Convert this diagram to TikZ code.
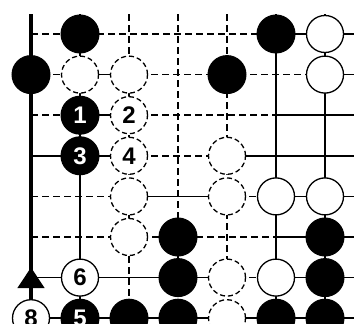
\documentclass[tikz,border=0pt]{standalone}
\usepackage{fontspec}
\setsansfont{Liberation Sans}
\begin{document}
\begin{tikzpicture}[x=49pt,y=-40.6pt,
  bs/.style={circle,fill=black,draw=black,line width=1pt,minimum size=38pt,inner sep=0pt,text=white},
  ws/.style={circle,fill=white,draw=black,line width=1.3pt,minimum size=37pt,inner sep=0pt},
  wsd/.style={ws,dash pattern=on 5pt off 3pt},
  gl/.style={line width=1.7pt},
  gd/.style={line width=1.5pt,dash pattern=on 7pt off 4pt},
  lab/.style={font=\sffamily\bfseries\fontsize{24}{24}\selectfont}]
\useasboundingbox (-0.6327,-0.8374) rectangle (6.5918,7.1429);
% horizontal lines
\draw[gd] (0,0) -- (5,0); \draw[gl] (5,0) -- (6.6,0);
\draw[gd] (0,1) -- (1,1); \draw[gl] (1,1) -- (2,1); \draw[gd] (2,1) -- (6,1); \draw[gl] (6,1) -- (6.6,1);
\draw[gd] (0,2) -- (1,2); \draw[gl] (1,2) -- (2,2); \draw[gd] (2,2) -- (5,2); \draw[gl] (5,2) -- (6.6,2);
\draw[gl] (0,3) -- (2,3); \draw[gd] (2,3) -- (4,3); \draw[gl] (4,3) -- (6.6,3);
\draw[gd] (0,4) -- (2,4); \draw[gl] (2,4) -- (4,4); \draw[gd] (4,4) -- (5,4); \draw[gl] (5,4) -- (6.6,4);
\draw[gd] (0,5) -- (5,5); \draw[gl] (5,5) -- (6.6,5);
\draw[gl] (0,6) -- (4,6); \draw[gd] (4,6) -- (5,6); \draw[gl] (5,6) -- (6.6,6);
\draw[gl] (0,7) -- (6.6,7);
% vertical lines
\draw[line width=3.5pt] (0,-0.49) -- (0,7.2);
\draw[gl] (1,-0.49) -- (1,7.2);
\draw[gd] (2,-0.49) -- (2,7.2);
\draw[gd] (3,-0.49) -- (3,7.2);
\draw[gd] (4,-0.49) -- (4,7.2);
\draw[gl] (5,-0.49) -- (5,7.2);
\draw[gl] (6,-0.49) -- (6,7.2);
% edge mark
\fill (0,5.75) -- (0.28,6.26) -- (-0.28,6.26) -- cycle;
% black stones
\node[bs] (b10) at (1,0) {};
\node[bs] (b50) at (5,0) {};
\node[bs] (b01) at (0,1) {};
\node[bs] (b41) at (4,1) {};
\node[bs,lab] (b12) at (1,2) {1};
\node[bs,lab] (b13) at (1,3) {3};
\node[bs] (b35) at (3,5) {};
\node[bs] (b65) at (6,5) {};
\node[bs] (b36) at (3,6) {};
\node[bs] (b66) at (6,6) {};
\node[bs,lab] (b17) at (1,7) {5};
\node[bs] (b27) at (2,7) {};
\node[bs] (b37) at (3,7) {};
\node[bs] (b57) at (5,7) {};
\node[bs] (b67) at (6,7) {};
% white stones
\node[ws] (w60) at (6,0) {};
\node[wsd] (w11) at (1,1) {};
\node[wsd] (w21) at (2,1) {};
\node[ws] (w61) at (6,1) {};
\node[wsd,lab] (w22) at (2,2) {2};
\node[wsd,lab] (w23) at (2,3) {4};
\node[wsd] (w43) at (4,3) {};
\node[wsd] (w24) at (2,4) {};
\node[wsd] (w44) at (4,4) {};
\node[ws] (w54) at (5,4) {};
\node[ws] (w64) at (6,4) {};
\node[wsd] (w25) at (2,5) {};
\node[ws,lab] (w16) at (1,6) {6};
\node[wsd] (w46) at (4,6) {};
\node[ws] (w56) at (5,6) {};
\node[ws,lab] (w07) at (0,7) {8};
\node[wsd] (w47) at (4,7) {};
\end{tikzpicture}
\end{document}
